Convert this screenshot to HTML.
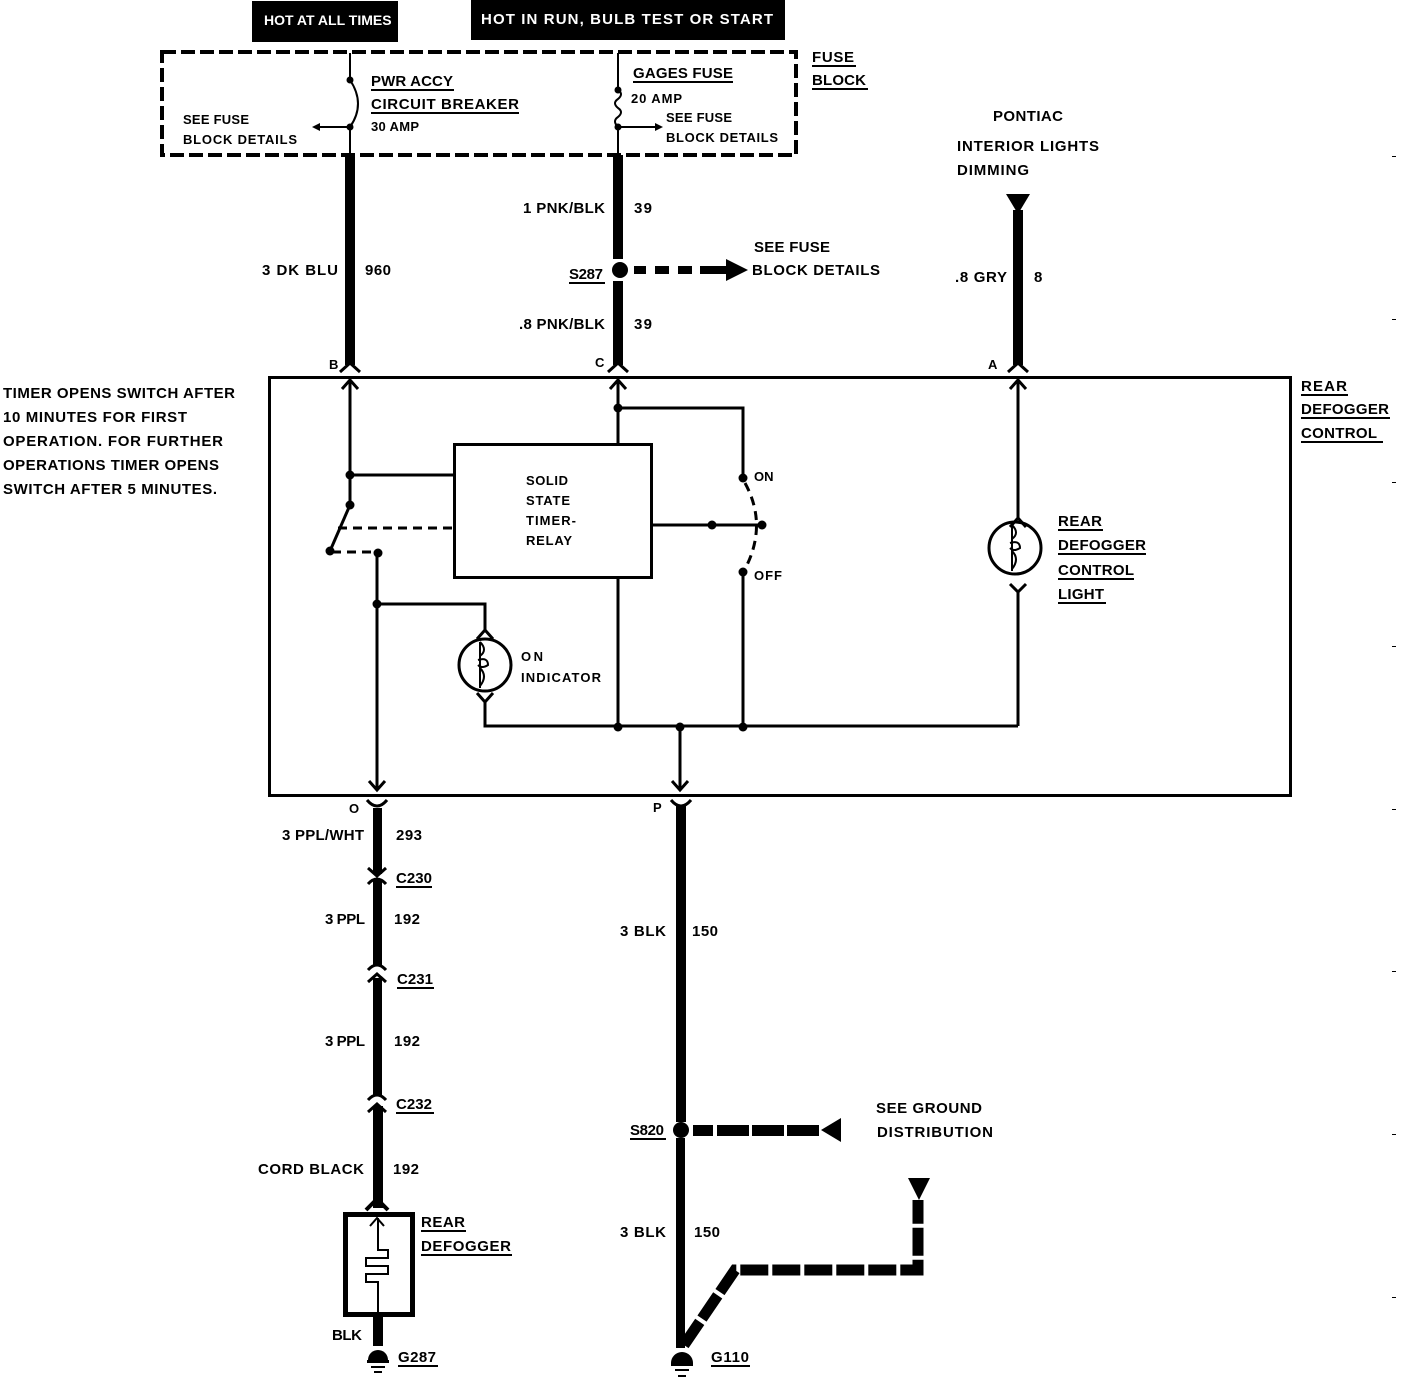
<!DOCTYPE html>
<html><head><meta charset="utf-8"><style>
html,body{margin:0;padding:0;background:#fff}
svg{display:block}
text{font-family:"Liberation Sans",sans-serif;font-weight:bold;font-size:15px;fill:#000}
.w{fill:#fff;font-size:15px}
</style></head><body>
<svg width="1408" height="1382" viewBox="0 0 1408 1382" xmlns="http://www.w3.org/2000/svg">
<!-- header boxes -->
<rect x="252" y="1" width="146" height="41" fill="#000"/>
<text class="w" x="264" y="25" style="font-size:14px">HOT AT ALL TIMES</text>
<rect x="471" y="0" width="314" height="40" fill="#000"/>
<text class="w" x="481" y="24" textLength="292">HOT IN RUN, BULB TEST OR START</text>

<!-- fuse block dashed -->
<rect x="162" y="52" width="634" height="103" fill="none" stroke="#000" stroke-width="4" stroke-dasharray="14,5"/>
<text x="812" y="62" textLength="42">FUSE</text>
<line x1="812" y1="66" x2="856" y2="66" stroke="#000" stroke-width="2"/>
<text x="812" y="85" textLength="54">BLOCK</text>
<line x1="812" y1="89" x2="868" y2="89" stroke="#000" stroke-width="2"/>

<!-- breaker -->
<g stroke="#000" stroke-width="2" fill="none">
<line x1="350" y1="53" x2="350" y2="80"/>
<path d="M350 80 Q366 104 350 127"/>
<line x1="350" y1="127" x2="350" y2="156"/>
<line x1="350" y1="127" x2="320" y2="127"/>
<line x1="618" y1="53" x2="618" y2="90"/>
<path d="M618 90 q6 4 0 9 q-6 4 0 9 q6 4 0 9 q-6 4 0 10"/>
<line x1="618" y1="127" x2="618" y2="156"/>
<line x1="618" y1="127" x2="655" y2="127"/>
</g>
<circle cx="350" cy="80" r="3.5"/><circle cx="350" cy="127" r="3.5"/>
<circle cx="618" cy="90" r="3.5"/><circle cx="618" cy="127" r="3.5"/>
<polygon points="312,127 320,123 320,131"/>
<polygon points="663,127 655,123 655,131"/>
<text x="371" y="86" textLength="82">PWR ACCY</text>
<line x1="371" y1="90" x2="454" y2="90" stroke="#000" stroke-width="2"/>
<text x="371" y="109" textLength="148">CIRCUIT BREAKER</text>
<line x1="371" y1="113" x2="519" y2="113" stroke="#000" stroke-width="2"/>
<text x="371" y="131" style="font-size:13px" textLength="48">30 AMP</text>
<text x="183" y="124" style="font-size:13px" textLength="66">SEE FUSE</text>
<text x="183" y="144" style="font-size:13px" textLength="114">BLOCK DETAILS</text>
<text x="633" y="78" textLength="100">GAGES FUSE</text>
<line x1="633" y1="82" x2="733" y2="82" stroke="#000" stroke-width="2"/>
<text x="631" y="103" style="font-size:13px" textLength="51">20 AMP</text>
<text x="666" y="122" style="font-size:13px" textLength="66">SEE FUSE</text>
<text x="666" y="142" style="font-size:13px" textLength="112">BLOCK DETAILS</text>

<!-- thick wires top -->
<rect x="345" y="155" width="10" height="210"/>
<rect x="613" y="155" width="10" height="104"/>
<rect x="613" y="281" width="10" height="84"/>
<circle cx="620" cy="270" r="8"/>
<g fill="#000"><rect x="634" y="266" width="12" height="8"/><rect x="655" y="266" width="14" height="8"/><rect x="678" y="266" width="14" height="8"/><rect x="700" y="266" width="28" height="8"/>
<polygon points="726,259 748,270 726,281"/></g>
<text x="262" y="275" textLength="76">3 DK BLU</text>
<text x="365" y="275" textLength="26">960</text>
<text x="523" y="213" textLength="82">1 PNK/BLK</text>
<text x="634" y="213" textLength="18">39</text>
<text x="569" y="279" textLength="34">S287</text>
<line x1="569" y1="283" x2="605" y2="283" stroke="#000" stroke-width="2"/>
<text x="519" y="329" textLength="86">.8 PNK/BLK</text>
<text x="634" y="329" textLength="18">39</text>
<text x="754" y="252" textLength="76">SEE FUSE</text>
<text x="752" y="275" textLength="128">BLOCK DETAILS</text>

<!-- pontiac -->
<text x="993" y="121" textLength="70">PONTIAC</text>
<text x="957" y="151" textLength="142">INTERIOR LIGHTS</text>
<text x="957" y="175" textLength="72">DIMMING</text>
<polygon points="1006,194 1030,194 1018,214"/>
<rect x="1013" y="210" width="10" height="155"/>
<text x="955" y="282" textLength="52">.8 GRY</text>
<text x="1034" y="282" textLength="10">8</text>

<!-- connector caps top -->
<g stroke="#000" stroke-width="3" fill="none">
<path d="M340 372 L350 363 L360 372"/>
<path d="M608 372 L618 363 L628 372"/>
<path d="M1008 372 L1018 363 L1028 372"/>
</g>
<text x="329" y="369" style="font-size:13px">B</text>
<text x="595" y="367" style="font-size:13px">C</text>
<text x="988" y="369" style="font-size:13px">A</text>

<!-- main box -->
<rect x="269.5" y="377.5" width="1021" height="418" fill="none" stroke="#000" stroke-width="3"/>
<text x="1301" y="391" textLength="46">REAR</text>
<line x1="1301" y1="395" x2="1348" y2="395" stroke="#000" stroke-width="2"/>
<text x="1301" y="414" textLength="88">DEFOGGER</text>
<line x1="1301" y1="418" x2="1390" y2="418" stroke="#000" stroke-width="2"/>
<text x="1301" y="438" textLength="76">CONTROL</text>
<line x1="1301" y1="442" x2="1383" y2="442" stroke="#000" stroke-width="2"/>
<text x="3" y="398" textLength="232">TIMER OPENS SWITCH AFTER</text>
<text x="3" y="422" textLength="184">10 MINUTES FOR FIRST</text>
<text x="3" y="446" textLength="220">OPERATION. FOR FURTHER</text>
<text x="3" y="470" textLength="216">OPERATIONS TIMER OPENS</text>
<text x="3" y="494" textLength="214">SWITCH AFTER 5 MINUTES.</text>

<!-- internal circuitry -->
<g stroke="#000" stroke-width="3" fill="none">
<line x1="350" y1="380" x2="350" y2="505"/>
<path d="M342 389 L350 380 L358 389"/>
<line x1="350" y1="475" x2="454" y2="475"/>
<line x1="350" y1="505" x2="330" y2="551"/>
<line x1="377" y1="553" x2="377" y2="790"/>
<path d="M369 781 L377 790 L385 781"/>
<path d="M377 604 L485 604 L485 630"/>
<path d="M477 639 L485 630 L493 639"/>
<circle cx="485" cy="665" r="26"/>
<path d="M477 693 L485 702 L493 693"/>
<path d="M485 702 L485 726 L1018 726"/>
<line x1="618" y1="380" x2="618" y2="444"/>
<path d="M610 389 L618 380 L626 389"/>
<path d="M618 408 L743 408 L743 478"/>
<line x1="652" y1="525" x2="762" y2="525"/>
<line x1="618" y1="578" x2="618" y2="726"/>
<line x1="743" y1="572" x2="743" y2="726"/>
<line x1="680" y1="726" x2="680" y2="790"/>
<path d="M672 781 L680 790 L688 781"/>
<line x1="1018" y1="380" x2="1018" y2="518"/>
<path d="M1010 389 L1018 380 L1026 389"/>
<path d="M1010 527 L1018 518 L1026 527"/>
<circle cx="1015" cy="548" r="26"/>
<path d="M1010 584 L1018 592 L1026 584"/>
<line x1="1018" y1="592" x2="1018" y2="726"/>
</g>
<g stroke="#000" stroke-width="2" fill="none">
<path d="M480 642 L480 688 M480 642 q8 8 0 14 M480 668 q8 8 0 18 M478 660 q10 -3 10 5 q-6 4 -10 0"/>
<path d="M1012 525 L1012 571 M1012 525 q8 8 0 14 M1012 551 q8 8 0 18 M1010 543 q10 -3 10 5 q-6 4 -10 0"/>
</g>
<g stroke="#000" stroke-width="3" fill="none" stroke-dasharray="9,6">
<line x1="338" y1="528" x2="454" y2="528"/>
<line x1="332" y1="552" x2="377" y2="552"/>
<path d="M745 483 Q768 525 745 569"/>
</g>
<rect x="454.5" y="444.5" width="197" height="133" fill="#fff" stroke="#000" stroke-width="3"/>
<text x="526" y="485" style="font-size:13px" textLength="42">SOLID</text>
<text x="526" y="505" style="font-size:13px" textLength="44">STATE</text>
<text x="526" y="525" style="font-size:13px" textLength="50">TIMER-</text>
<text x="526" y="545" style="font-size:13px" textLength="46">RELAY</text>
<g>
<circle cx="350" cy="475" r="4.5"/><circle cx="350" cy="505" r="4.5"/><circle cx="330" cy="551" r="4.5"/><circle cx="378" cy="553" r="4.5"/>
<circle cx="377" cy="604" r="4.5"/><circle cx="618" cy="408" r="4.5"/><circle cx="743" cy="478" r="4.5"/><circle cx="712" cy="525" r="4.5"/><circle cx="762" cy="525" r="4.5"/><circle cx="743" cy="572" r="4.5"/>
<circle cx="618" cy="727" r="4.5"/><circle cx="680" cy="727" r="4.5"/><circle cx="743" cy="727" r="4.5"/>
</g>
<text x="754" y="481" style="font-size:13px">ON</text>
<text x="754" y="580" style="font-size:13px" textLength="28">OFF</text>
<text x="521" y="661" style="font-size:13px" textLength="22">ON</text>
<text x="521" y="682" style="font-size:13px" textLength="80">INDICATOR</text>
<text x="1058" y="526" textLength="44">REAR</text>
<line x1="1058" y1="530" x2="1103" y2="530" stroke="#000" stroke-width="2"/>
<text x="1058" y="550" textLength="88">DEFOGGER</text>
<line x1="1058" y1="554" x2="1146" y2="554" stroke="#000" stroke-width="2"/>
<text x="1058" y="575" textLength="76">CONTROL</text>
<line x1="1058" y1="579" x2="1134" y2="579" stroke="#000" stroke-width="2"/>
<text x="1058" y="599" textLength="46">LIGHT</text>
<line x1="1058" y1="603" x2="1106" y2="603" stroke="#000" stroke-width="2"/>

<!-- bottom connectors -->
<g stroke="#000" stroke-width="3" fill="none">
<path d="M367 800 Q377 812 387 800"/>
<path d="M671 800 Q681 812 691 800"/>
</g>
<text x="349" y="813" style="font-size:13px">O</text>
<text x="653" y="812" style="font-size:13px">P</text>

<!-- O wire -->
<rect x="373" y="808" width="9" height="66"/>
<path d="M368 868 L377 876 L386 868" stroke="#000" stroke-width="3" fill="none"/>
<path d="M368 884 Q377 874 386 884" stroke="#000" stroke-width="3" fill="none"/>
<rect x="373" y="880" width="9" height="86"/>
<path d="M368 970 Q377 960 386 970" stroke="#000" stroke-width="3" fill="none"/>
<path d="M368 982 L377 974 L386 982" stroke="#000" stroke-width="3" fill="none"/>
<rect x="373" y="978" width="9" height="118"/>
<path d="M368 1100 Q377 1090 386 1100" stroke="#000" stroke-width="3" fill="none"/>
<path d="M368 1112 L377 1104 L386 1112" stroke="#000" stroke-width="3" fill="none"/>
<rect x="373" y="1106" width="10" height="102"/>
<path d="M366 1210 L377 1199 L388 1210" stroke="#000" stroke-width="4" fill="none"/>
<text x="282" y="840" textLength="82">3 PPL/WHT</text>
<text x="396" y="840" textLength="26">293</text>
<text x="396" y="883" textLength="36">C230</text>
<line x1="396" y1="887" x2="432" y2="887" stroke="#000" stroke-width="2"/>
<text x="325" y="924" textLength="40">3 PPL</text>
<text x="394" y="924" textLength="26">192</text>
<text x="397" y="984" textLength="36">C231</text>
<line x1="397" y1="988" x2="434" y2="988" stroke="#000" stroke-width="2"/>
<text x="325" y="1046" textLength="40">3 PPL</text>
<text x="394" y="1046" textLength="26">192</text>
<text x="396" y="1109" textLength="36">C232</text>
<line x1="396" y1="1113" x2="434" y2="1113" stroke="#000" stroke-width="2"/>
<text x="258" y="1174" textLength="106">CORD BLACK</text>
<text x="393" y="1174" textLength="26">192</text>
<rect x="345.5" y="1214.5" width="67" height="100" fill="none" stroke="#000" stroke-width="5"/>
<g stroke="#000" stroke-width="2" fill="none">
<path d="M370 1226 L377 1218 L384 1226"/>
<path d="M378 1218 L378 1250 L388 1250 L388 1258 L366 1258 L366 1266 L388 1266 L388 1274 L366 1274 L366 1282 L378 1282 L378 1312"/>
</g>
<text x="421" y="1227" textLength="44">REAR</text>
<line x1="421" y1="1231" x2="466" y2="1231" stroke="#000" stroke-width="2"/>
<text x="421" y="1251" textLength="90">DEFOGGER</text>
<line x1="421" y1="1255" x2="512" y2="1255" stroke="#000" stroke-width="2"/>
<rect x="373" y="1316" width="10" height="30"/>
<text x="332" y="1340" textLength="30">BLK</text>
<path d="M368 1360 a10 10 0 0 1 20 0 z"/>
<rect x="367" y="1360" width="22" height="3"/>
<rect x="371" y="1366" width="14" height="2"/><rect x="374" y="1371" width="8" height="2"/>
<text x="398" y="1362" textLength="38">G287</text>
<line x1="398" y1="1366" x2="438" y2="1366" stroke="#000" stroke-width="2"/>

<!-- P wire -->
<rect x="676" y="806" width="10" height="316"/>
<circle cx="681" cy="1130" r="8"/>
<rect x="676" y="1138" width="9" height="210"/>
<g fill="#000">
<rect x="693" y="1125" width="20" height="11"/><rect x="717" y="1125" width="32" height="11"/><rect x="752" y="1125" width="32" height="11"/><rect x="787" y="1125" width="32" height="11"/>
<polygon points="841,1118 841,1142 821,1130"/>
</g>
<text x="620" y="936" textLength="46">3 BLK</text>
<text x="692" y="936" textLength="26">150</text>
<text x="630" y="1135" textLength="34">S820</text>
<line x1="630" y1="1139" x2="666" y2="1139" stroke="#000" stroke-width="2"/>
<text x="876" y="1113" textLength="106">SEE GROUND</text>
<text x="877" y="1137" textLength="116">DISTRIBUTION</text>
<text x="620" y="1237" textLength="46">3 BLK</text>
<text x="694" y="1237" textLength="26">150</text>
<!-- dashed ground path -->
<g stroke="#000" stroke-width="11" fill="none" stroke-dasharray="28,4">
<path d="M684 1345 L735 1270 L918 1270 L918 1200"/>
</g>
<polygon points="908,1178 930,1178 919,1200"/>
<path d="M671 1363 a11 11 0 0 1 22 0 z"/>
<rect x="671" y="1363" width="22" height="3"/>
<rect x="675" y="1369" width="14" height="2"/><rect x="678" y="1375" width="8" height="2"/>
<text x="711" y="1362" textLength="38">G110</text>
<line x1="711" y1="1366" x2="750" y2="1366" stroke="#000" stroke-width="2"/>

<!-- margin ticks -->
<g fill="#000">
<rect x="1392" y="156" width="4" height="1"/><rect x="1392" y="319" width="4" height="1"/><rect x="1392" y="482" width="4" height="1"/><rect x="1392" y="646" width="4" height="1"/><rect x="1392" y="809" width="4" height="1"/><rect x="1392" y="971" width="4" height="1"/><rect x="1392" y="1134" width="4" height="1"/><rect x="1392" y="1297" width="4" height="1"/>
</g>
</svg>
</body></html>
